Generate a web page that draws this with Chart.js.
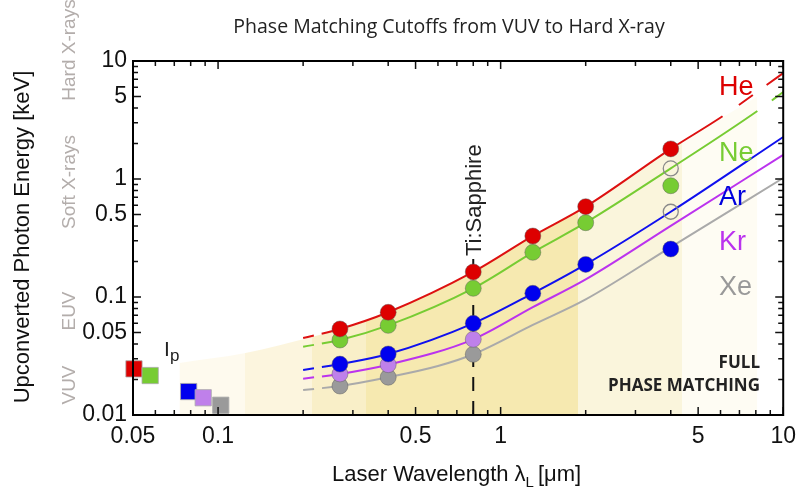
<!DOCTYPE html>
<html>
<head>
<meta charset="utf-8">
<script src="https://cdn.jsdelivr.net/npm/chart.js@4"></script>
<style>
  html, body { margin: 0; padding: 0; background: #fff; }
  canvas { display: block; }
</style>
</head>
<body>
<canvas id="chart" width="804" height="494"></canvas>
<script>
// measured cutoffs, laser wavelength in um, photon energy in keV
const wavelengths = [0.27, 0.4, 0.8, 1.3, 2.0, 4.0];
const heCutoff = [0.0536, 0.0742, 0.163, 0.329, 0.583, 1.80];
const neCutoff = [0.0432, 0.0575, 0.1185, 0.239, 0.426, 0.877];
const arCutoff = [0.0270, 0.0329, 0.0598, 0.1075, 0.189, 0.255];
const krWavelengths = [0.27, 0.4, 0.8];
const krCutoff = [0.0223, 0.0267, 0.0438];
const xeCutoff = [0.0176, 0.0209, 0.0327];
// open circles at 4 um
const openWavelengths = [4.0, 4.0];
const openCutoff = [1.23, 0.528];

// predicted cutoff curves
const heCurveX = [0.2, 0.27, 0.4, 0.8, 1.3, 2.0, 4.0, 6.1, 10];
const heCurveY = [0.045, 0.0536, 0.0742, 0.163, 0.329, 0.583, 1.80, 3.4, 7.9];
const neCurveX = [0.2, 0.27, 0.4, 0.8, 1.3, 2.0, 4.0, 8.1, 10];
const neCurveY = [0.0379, 0.0432, 0.0575, 0.1185, 0.239, 0.426, 1.23, 3.77, 5.46];
const arCurveX = [0.2, 0.27, 0.4, 0.8, 1.3, 2.0, 4.0, 10];
const arCurveY = [0.0241, 0.0270, 0.0329, 0.0598, 0.1075, 0.189, 0.528, 2.27];
const krCurveX = [0.2, 0.27, 0.4, 0.8, 1.3, 2.0, 4.0, 10];
const krCurveY = [0.0203, 0.0223, 0.0267, 0.0438, 0.082, 0.141, 0.401, 1.6];
const xeCurveX = [0.2, 0.27, 0.4, 0.6, 0.8, 1.3, 2.0, 4.0, 10];
const xeCurveY = [0.0163, 0.0176, 0.0209, 0.026, 0.0327, 0.058, 0.0955, 0.265, 1.02];

// ionization potentials
const gases = ['He', 'Ne', 'Ar', 'Kr', 'Xe'];
const ipWavelength = [0.0504, 0.0575, 0.0787, 0.0886, 0.1022];
const ipEnergy = [0.0246, 0.0216, 0.0158, 0.0140, 0.0121];

// full phase matching region
const bandEdges = [0.073, 0.125, 0.2145, 0.335, 1.875, 4.39, 8.1];
const envelopeX = [0.073, 0.125, 0.2145, 0.27, 0.4, 0.8, 1.3, 2.0, 4.0, 8.1];
const envelopeY = [0.0276, 0.0335, 0.0458, 0.0536, 0.0742, 0.163, 0.329, 0.583, 1.80, 5.0];
const tiSapphire = 0.8;

const xTickLabels = [0.05, 0.1, 0.5, 1, 5, 10];
const yTickLabels = [0.01, 0.05, 0.1, 0.5, 1, 5, 10];

const gasColors = ['#dd1111', '#77cc33', '#1010ee', '#bb33ee', '#aaaaaa'];
const markerColors = ['#dd0000', '#77cc33', '#0000ee', '#bf80ea', '#9a9a9a'];
const labelColors = ['#dd0000', '#77cc33', '#0000dd', '#bb33ee', '#999999'];
const bandColors = ['#fefaee', '#fcf5de', '#f9efc8', '#f6e9b0', '#faf5dc', '#fefcf3'];

const pts = (xs, ys) => xs.map((x, i) => ({ x: x, y: ys[i] }));

function logTicks(min, max) {
  const out = [];
  for (let e = -3; e <= 2; e++) {
    for (let m = 1; m <= 9; m++) {
      const v = Number((m * Math.pow(10, e)).toPrecision(3));
      if (v >= min - 1e-12 && v <= max + 1e-12) out.push(v);
    }
  }
  return out;
}
const isLabel = (list, v) => list.some(l => Math.abs(l - v) < 1e-9);

function curve(xs, ys, i, endDash) {
  const n = xs.length;
  return {
    type: 'line',
    data: pts(xs, ys),
    borderColor: gasColors[i],
    borderWidth: 2,
    pointRadius: 0,
    cubicInterpolationMode: 'monotone',
    fill: false,
    order: 3,
    segment: {
      borderDash: c => c.p0DataIndex === 0 ? [11, 8, 60]
        : (endDash && c.p1DataIndex === n - 1 ? endDash : undefined)
    }
  };
}

function markers(xs, ys, i) {
  return {
    type: 'scatter',
    data: pts(xs, ys),
    backgroundColor: markerColors[i],
    borderColor: 'rgba(90,90,90,0.45)',
    borderWidth: 1,
    pointRadius: 8,
    order: 1
  };
}

function bandFill(c) {
  const chart = c.chart;
  const a = chart.chartArea;
  if (!a) return 'rgba(0,0,0,0)';
  const xs = chart.scales.x;
  const g = chart.ctx.createLinearGradient(a.left, 0, a.right, 0);
  const f = v => Math.min(1, Math.max(0, (xs.getPixelForValue(v) - a.left) / (a.right - a.left)));
  for (let i = 0; i < bandColors.length; i++) {
    g.addColorStop(f(bandEdges[i]), bandColors[i]);
    g.addColorStop(f(bandEdges[i + 1]), bandColors[i]);
  }
  return g;
}

const textPlugin = {
  id: 'frameText',
  afterDraw(chart) {
    const { ctx, chartArea: a, scales: { x, y } } = chart;
    ctx.save();
    // inward ticks on all four sides
    ctx.strokeStyle = '#111';
    ctx.lineWidth = 1.5;
    ctx.beginPath();
    x.ticks.forEach(t => {
      const px = x.getPixelForValue(t.value);
      const len = isLabel(xTickLabels, t.value) ? 8 : 5;
      ctx.moveTo(px, a.bottom); ctx.lineTo(px, a.bottom - len);
      ctx.moveTo(px, a.top); ctx.lineTo(px, a.top + len);
    });
    y.ticks.forEach(t => {
      const py = y.getPixelForValue(t.value);
      const len = isLabel(yTickLabels, t.value) ? 8 : 5;
      ctx.moveTo(a.left, py); ctx.lineTo(a.left + len, py);
      ctx.moveTo(a.right, py); ctx.lineTo(a.right - len, py);
    });
    ctx.stroke();
    ctx.lineWidth = 2;
    ctx.strokeStyle = '#000';
    ctx.strokeRect(a.left, a.top, a.right - a.left, a.bottom - a.top);

    // title
    ctx.fillStyle = '#222';
    ctx.font = '19.5px "Open Sans"';
    ctx.textAlign = 'center';
    ctx.textBaseline = 'alphabetic';
    ctx.fillText('Phase Matching Cutoffs from VUV to Hard X-ray', 449, 33);

    // y title
    ctx.save();
    ctx.translate(29, 237);
    ctx.rotate(-Math.PI / 2);
    ctx.font = '22px "Liberation Sans"';
    ctx.fillStyle = '#111';
    ctx.fillText('Upconverted Photon Energy [keV]', 0, 0);
    ctx.restore();

    // spectral region labels
    ctx.fillStyle = '#b3adab';
    ctx.font = '19px "Liberation Sans"';
    [['Hard X-rays', 50], ['Soft X-rays', 182], ['EUV', 311], ['VUV', 385]].forEach(r => {
      ctx.save();
      ctx.translate(75, r[1]);
      ctx.rotate(-Math.PI / 2);
      ctx.fillText(r[0], 0, 0);
      ctx.restore();
    });

    // x title with subscript
    ctx.textAlign = 'left';
    ctx.fillStyle = '#111';
    ctx.font = '22px "Liberation Sans"';
    let px = 332;
    const main = 'Laser Wavelength \u03bb';
    ctx.fillText(main, px, 481);
    px += ctx.measureText(main).width;
    ctx.font = '15px "Liberation Sans"';
    ctx.fillText('L', px, 487);
    px += ctx.measureText('L').width + 4;
    ctx.font = '22px "Liberation Sans"';
    ctx.fillText('[\u03bcm]', px, 481);

    // Ip label
    ctx.fillStyle = '#222';
    ctx.font = '21px "Liberation Sans"';
    ctx.fillText('I', 164, 356);
    ctx.font = '17px "Liberation Sans"';
    ctx.fillText('p', 170, 361);

    // gas labels
    ctx.font = '27px "Liberation Sans"';
    const gy = [95, 161, 205, 250, 295];
    gases.forEach((g, i) => {
      ctx.fillStyle = labelColors[i];
      ctx.fillText(g, 719, gy[i]);
    });

    // Ti:Sapphire
    ctx.save();
    ctx.translate(x.getPixelForValue(tiSapphire) + 8, 256);
    ctx.rotate(-Math.PI / 2);
    ctx.fillStyle = '#222';
    ctx.font = '22px "Liberation Sans"';
    ctx.fillText('Ti:Sapphire', 0, 0);
    ctx.restore();

    // full phase matching
    ctx.textAlign = 'right';
    ctx.fillStyle = '#222';
    ctx.font = 'bold 17px "Open Sans"';
    ctx.fillText('FULL', 760, 368);
    ctx.fillText('PHASE MATCHING', 760, 391);
    ctx.restore();
  }
};

const datasets = [
  // Ip squares
  {
    type: 'scatter',
    data: pts(ipWavelength, ipEnergy),
    backgroundColor: markerColors,
    borderColor: 'rgba(170,170,170,0.8)',
    borderWidth: 1,
    pointStyle: 'rect',
    pointRadius: 11.5,
    clip: false,
    order: 1
  },
  markers(wavelengths, heCutoff, 0),
  markers(wavelengths, neCutoff, 1),
  markers(wavelengths, arCutoff, 2),
  markers(krWavelengths, krCutoff, 3),
  markers(krWavelengths, xeCutoff, 4),
  {
    type: 'scatter',
    data: pts(openWavelengths, openCutoff),
    backgroundColor: 'rgba(255,255,255,0)',
    borderColor: '#8a8a8a',
    borderWidth: 1.3,
    pointRadius: 7.5,
    order: 1
  },
  curve(heCurveX, heCurveY, 0, [0, 20, 17, 17, 20, 40]),
  curve(neCurveX, neCurveY, 1, [0, 18, 20, 10]),
  curve(arCurveX, arCurveY, 2),
  curve(krCurveX, krCurveY, 3),
  curve(xeCurveX, xeCurveY, 4),
  // Ti:Sapphire marker line
  {
    type: 'line',
    data: [{ x: tiSapphire, y: 0.01 }, { x: tiSapphire, y: 0.21 }],
    borderColor: '#111',
    borderWidth: 2,
    borderDash: [14, 10],
    pointRadius: 0,
    fill: false,
    order: 4
  },
  // phase matching region
  {
    type: 'line',
    data: pts(envelopeX, envelopeY),
    borderWidth: 0,
    borderColor: 'rgba(0,0,0,0)',
    backgroundColor: bandFill,
    pointRadius: 0,
    cubicInterpolationMode: 'monotone',
    fill: 'start',
    order: 10
  }
];

new Chart(document.getElementById('chart'), {
  type: 'scatter',
  data: { datasets: datasets },
  options: {
    responsive: false,
    animation: false,
    events: [],
    layout: { padding: { left: 0, right: 16, top: 61, bottom: 0 } },
    plugins: { legend: { display: false }, tooltip: { enabled: false } },
    scales: {
      x: {
        type: 'logarithmic',
        min: 0.05,
        max: 10,
        afterBuildTicks: s => { s.ticks = logTicks(0.05, 10).map(v => ({ value: v })); },
        afterFit: s => { s.height = 79; },
        grid: { display: false, drawTicks: false },
        border: { display: false },
        ticks: {
          autoSkip: false,
          maxRotation: 0,
          padding: 8,
          color: '#111',
          font: { family: 'Liberation Sans', size: 23 },
          callback: v => isLabel(xTickLabels, v) ? String(v) : ''
        }
      },
      y: {
        type: 'logarithmic',
        min: 0.01,
        max: 10,
        afterBuildTicks: s => { s.ticks = logTicks(0.01, 10).map(v => ({ value: v })); },
        afterFit: s => { s.width = 133; },
        grid: { display: false, drawTicks: false },
        border: { display: false },
        ticks: {
          autoSkip: false,
          padding: 6,
          color: '#111',
          font: { family: 'Liberation Sans', size: 23 },
          callback: v => isLabel(yTickLabels, v) ? String(v) : ''
        }
      }
    }
  },
  plugins: [textPlugin]
});
</script>
</body>
</html>
